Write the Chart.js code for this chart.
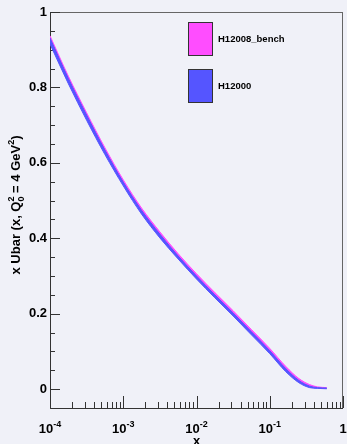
<!DOCTYPE html>
<html>
<head>
<meta charset="utf-8">
<script src="https://cdn.jsdelivr.net/npm/chart.js@4"></script>
<style>
  html, body { margin: 0; padding: 0; background: #f0f1f8; }
  canvas { display: block; }
</style>
</head>
<body>
<canvas id="myChart" width="347" height="444"></canvas>
<script>
// valores
const xs = [1e-4, 1.78e-4, 3.16e-4, 5.62e-4, 1e-3, 1.78e-3, 3.16e-3, 5.62e-3, 1e-2, 1.78e-2, 3.16e-2, 5.62e-2, 0.1, 0.166, 0.25, 0.35, 0.45, 0.6];
const benchCentral = [0.929, 0.823, 0.726, 0.634, 0.550, 0.475, 0.412, 0.355, 0.302, 0.252, 0.204, 0.154, 0.104, 0.056, 0.025, 0.010, 0.005, 0.003];
const benchHalf = [0.008, 0.007, 0.007, 0.006, 0.005, 0.005, 0.005, 0.004, 0.004, 0.004, 0.004, 0.004, 0.004, 0.004, 0.003, 0.002, 0.001, 0.001];
const h12000Central = [0.923, 0.817, 0.720, 0.628, 0.544, 0.469, 0.406, 0.349, 0.296, 0.246, 0.198, 0.148, 0.098, 0.050, 0.020, 0.006, 0.003, 0.002];
const h12000Half = [0.008, 0.007, 0.007, 0.006, 0.005, 0.005, 0.005, 0.004, 0.004, 0.004, 0.004, 0.004, 0.004, 0.004, 0.003, 0.002, 0.001, 0.001];
const yTicks = [0, 0.2, 0.4, 0.6, 0.8, 1];
const yTickLabels = ['0', '0.2', '0.4', '0.6', '0.8', '1'];
const xTickExps = [-4, -3, -2, -1, 0];
const seriesNames = ['H12008_bench', 'H12000'];

const PINK = '#ff4dff';
const BLUE = '#5555ff';
const BG = '#f0f1f8';

function band(central, half, sign) {
    return xs.map((x, i) => ({ x: x, y: central[i] + sign * half[i] }));
}

function bandSet(label, central, half, color) {
    return [{
        label: label,
        data: band(central, half, 1),
        borderColor: color,
        backgroundColor: color,
        borderWidth: 1,
        pointRadius: 0,
        cubicInterpolationMode: 'monotone',
        fill: '+1'
    }, {
        label: label + '_low',
        data: band(central, half, -1),
        borderColor: color,
        backgroundColor: color,
        borderWidth: 1,
        pointRadius: 0,
        cubicInterpolationMode: 'monotone',
        fill: false
    }];
}

const decor = {
    id: 'decor',
    beforeDraw(chart) {
        const c = chart.ctx;
        c.save();
        c.fillStyle = BG;
        c.fillRect(0, 0, chart.width, chart.height);
        c.restore();
    },
    beforeDatasetsDraw(chart) {
        const c = chart.ctx;
        const a = chart.chartArea;
        const xs_ = chart.scales.x;
        const ys_ = chart.scales.y;
        c.save();
        // marco
        c.strokeStyle = '#666';
        c.lineWidth = 1;
        c.strokeRect(a.left + 0.5, a.top + 0.5, a.right - a.left - 1, a.bottom - a.top);
        c.strokeStyle = '#333';
        c.beginPath();
        c.moveTo(a.left + 0.5, a.top);
        c.lineTo(a.left + 0.5, a.bottom + 0.5);
        c.lineTo(a.right, a.bottom + 0.5);
        c.stroke();
        // ticks y
        for (let v = 0; v <= 1.0001; v += 0.05) {
            const py = Math.round(ys_.getPixelForValue(v)) + 0.5;
            const major = Math.abs(v / 0.2 - Math.round(v / 0.2)) < 1e-6;
            c.beginPath();
            c.moveTo(a.left, py);
            c.lineTo(a.left + (major ? 10 : 5), py);
            c.stroke();
        }
        // ticks x
        for (let e = -4; e <= 0; e++) {
            for (let m = 1; m <= 9; m++) {
                const v = m * Math.pow(10, e);
                if (v > 1.0001) break;
                const px = Math.round(xs_.getPixelForValue(v)) + 0.5;
                c.beginPath();
                c.moveTo(px, a.bottom);
                c.lineTo(px, a.bottom - (m === 1 ? 12 : 6));
                c.stroke();
            }
        }
        c.restore();
    },
    afterDraw(chart) {
        const c = chart.ctx;
        const a = chart.chartArea;
        const xs_ = chart.scales.x;
        const ys_ = chart.scales.y;
        c.save();
        c.fillStyle = '#000';
        // etiquetas y
        c.font = 'bold 13px "Liberation Sans", Arial, sans-serif';
        c.textAlign = 'right';
        c.textBaseline = 'middle';
        yTicks.forEach((v, i) => {
            c.fillText(yTickLabels[i], a.left - 3, ys_.getPixelForValue(v));
        });
        // etiquetas x
        c.textBaseline = 'alphabetic';
        xTickExps.forEach(e => {
            const px = xs_.getPixelForValue(Math.pow(10, e));
            const base = 433;
            if (e === 0) {
                c.font = 'bold 13px "Liberation Sans", Arial, sans-serif';
                c.textAlign = 'center';
                c.fillText('1', px, base);
                return;
            }
            c.font = 'bold 13px "Liberation Sans", Arial, sans-serif';
            const w1 = c.measureText('10').width;
            c.font = 'bold 9px "Liberation Sans", Arial, sans-serif';
            const sup = String(e);
            const w2 = c.measureText(sup).width;
            const x0 = px - (w1 + w2) / 2;
            c.textAlign = 'left';
            c.font = 'bold 13px "Liberation Sans", Arial, sans-serif';
            c.fillText('10', x0, base);
            c.font = 'bold 9px "Liberation Sans", Arial, sans-serif';
            c.fillText(sup, x0 + w1, base - 6);
        });
        // titulo x
        c.font = 'bold 13px "Liberation Sans", Arial, sans-serif';
        c.textAlign = 'center';
        c.fillText('x', (a.left + a.right) / 2, 445);

        // titulo y
        c.translate(20, 205);
        c.rotate(-Math.PI / 2);
        const big = 'bold 13px "Liberation Sans", Arial, sans-serif';
        const small = 'bold 9px "Liberation Sans", Arial, sans-serif';
        const parts = [
            { t: 'x Ubar (x, Q', f: big, dy: 0 },
            { t: '2', f: small, dy: -6, stack: '0' },
            { t: ' = 4 GeV', f: big, dy: 0 },
            { t: '2', f: small, dy: -6 },
            { t: ')', f: big, dy: 0 }
        ];
        let total = 0;
        parts.forEach(p => { c.font = p.f; p.w = c.measureText(p.t).width; total += p.w; });
        let x = -total / 2;
        c.textAlign = 'left';
        parts.forEach(p => {
            c.font = p.f;
            c.fillText(p.t, x, p.dy);
            if (p.stack) c.fillText(p.stack, x, 4);
            x += p.w;
        });
        c.restore();

        // leyenda
        c.save();
        const boxes = [[188, 22, PINK], [188, 69, BLUE]];
        c.font = 'bold 9.5px "Liberation Sans", Arial, sans-serif';
        c.textBaseline = 'middle';
        c.textAlign = 'left';
        boxes.forEach((b, i) => {
            c.fillStyle = b[2];
            c.fillRect(b[0], b[1], 24, 33);
            c.strokeStyle = '#333';
            c.lineWidth = 1;
            c.strokeRect(b[0] + 0.5, b[1] + 0.5, 24, 33);
            c.fillStyle = '#000';
            c.fillText(seriesNames[i], 218, b[1] + 17);
        });
        c.restore();
    }
};

const ctx = document.getElementById('myChart').getContext('2d');
const myChart = new Chart(ctx, {
    type: 'line',
    data: {
        datasets: [
            ...bandSet(seriesNames[1], h12000Central, h12000Half, BLUE),
            ...bandSet(seriesNames[0], benchCentral, benchHalf, PINK)
        ]
    },
    options: {
        responsive: false,
        animation: false,
        devicePixelRatio: 1,
        layout: { padding: { left: 50, right: 4, top: 12, bottom: 36 } },
        scales: {
            x: { type: 'logarithmic', min: 1e-4, max: 1, display: false },
            y: { min: -0.05, max: 1, display: false }
        },
        plugins: {
            legend: { display: false },
            tooltip: { enabled: false }
        }
    },
    plugins: [decor]
});
</script>
</body>
</html>
